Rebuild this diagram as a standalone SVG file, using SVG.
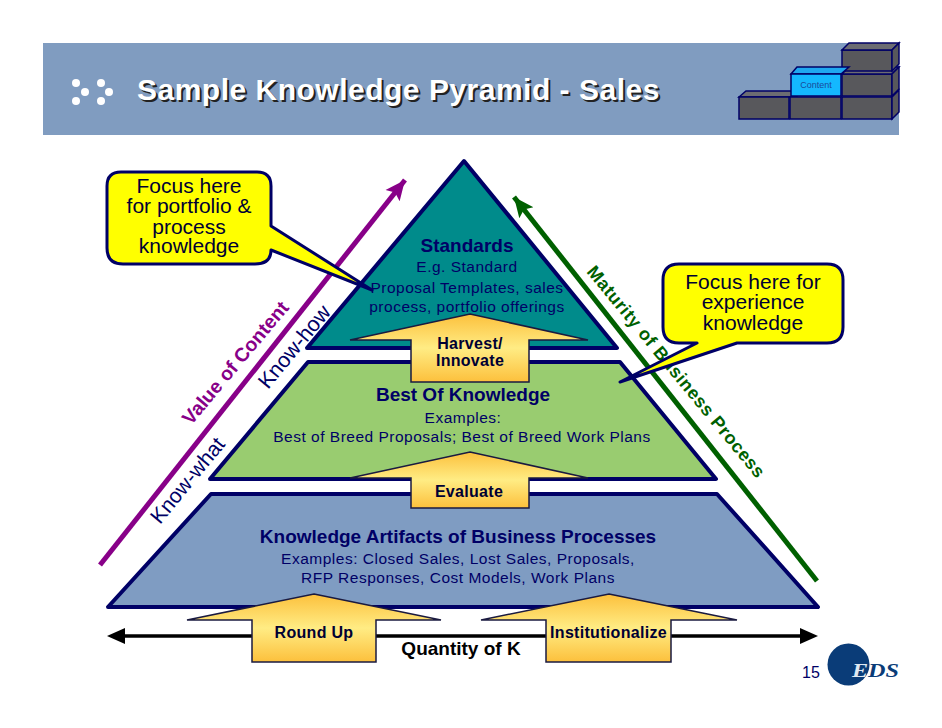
<svg xmlns="http://www.w3.org/2000/svg" width="942" height="728" viewBox="0 0 942 728">
<defs>
<linearGradient id="gold" x1="0" y1="0" x2="0" y2="1"><stop offset="0" stop-color="#fcc03c"/><stop offset="0.5" stop-color="#ffec84"/><stop offset="1" stop-color="#fcc03c"/></linearGradient>
<marker id="ap" markerUnits="userSpaceOnUse" markerWidth="24" markerHeight="22" refX="20" refY="11" orient="auto"><path d="M0 2L20 11L0 20L4 11Z" fill="#880088"/></marker>
<marker id="ag" markerUnits="userSpaceOnUse" markerWidth="24" markerHeight="22" refX="20" refY="11" orient="auto"><path d="M0 2L20 11L0 20L4 11Z" fill="#006000"/></marker>
</defs>
<style>
text{font-family:"Liberation Sans",Arial,sans-serif}
.tier{stroke:#000066;stroke-width:4;stroke-linejoin:round}
.up{fill:url(#gold);stroke:#1a1a40;stroke-width:1.5}
.navy{fill:#000066}
.b{font-weight:bold}
.m{text-anchor:middle}
.h{font-size:19px;font-weight:bold;text-anchor:middle;fill:#000066}
.t{font-size:15.500px;letter-spacing:.5px;text-anchor:middle;fill:#000066}
.u{font-size:16px;letter-spacing:.3px;font-weight:bold;text-anchor:middle;fill:#000033}
.c{font-size:21px;text-anchor:middle;fill:#000033}
.call{fill:#ffff00;stroke:#000066;stroke-width:3;stroke-linejoin:round}
.block{fill:#58585c;stroke:#000066;stroke-width:1.5}
.top{fill:#6c6c72;stroke:#000066;stroke-width:1.5}
</style>
<rect width="942" height="728" fill="#fff"/>
<g id="header">
<rect x="43" y="43" width="856" height="92" fill="#809cc0"/>
<g fill="#fff"><circle cx="76" cy="83" r="4"/><circle cx="85" cy="92" r="4"/><circle cx="76" cy="101" r="4"/><circle cx="101" cy="83" r="4"/><circle cx="109" cy="92" r="4"/><circle cx="101" cy="101" r="4"/></g>
<text x="139" y="102" font-size="30" font-weight="bold" letter-spacing=".5" fill="#222">Sample Knowledge Pyramid - Sales</text>
<text x="137" y="100" font-size="30" font-weight="bold" letter-spacing=".5" fill="#fff">Sample Knowledge Pyramid - Sales</text>
</g>
<g id="blocks">
<path class="top" d="M739 97L746 91H797V97Z"/><rect class="block" x="739" y="97" width="50" height="22"/>
<rect class="block" x="790" y="97" width="51" height="22"/>
<rect class="block" x="842" y="97" width="50" height="22"/><path class="block" d="M892 97L899 90V112L892 119Z"/>
<rect class="block" x="842" y="74" width="50" height="22"/><path class="top" d="M842 74L849 67H899L892 74Z"/><path class="block" d="M892 74L899 67V89L892 96Z"/>
<rect class="block" x="842" y="50" width="50" height="21"/><path class="top" d="M842 50L849 43H899L892 50Z"/><path class="block" d="M892 50L899 43V64L892 71Z"/>
<path d="M791 74L797 67H849L841 74Z" fill="#1fa8f0" stroke="#000066" stroke-width="1.5"/>
<rect x="791" y="74" width="50" height="22" fill="#14b8ff" stroke="#000066" stroke-width="1.5"/>
<text x="816" y="88" font-size="9" class="m" fill="#1a4a9a">Content</text>
</g>
<g id="tier-top">
<path class="tier" fill="#008b8b" d="M464 161L617 348H307Z"/>
<text x="467" y="252" class="h">Standards</text>
<text x="467" y="272" class="t">E.g. Standard</text>
<text x="467" y="293" class="t">Proposal Templates, sales</text>
<text x="467" y="312" class="t">process, portfolio offerings</text>
</g>
<g id="tier-middle">
<path class="tier" fill="#99cc70" d="M308 362H620L716 479H210Z"/>
<text x="463" y="401" class="h">Best Of Knowledge</text>
<text x="463" y="423" class="t">Examples:</text>
<text x="462" y="442" class="t">Best of Breed Proposals; Best of Breed Work Plans</text>
</g>
<g id="tier-bottom">
<path class="tier" fill="#7f9cc2" d="M211 494H717L818 607H108Z"/>
<text x="458" y="543" class="h">Knowledge Artifacts of Business Processes</text>
<text x="458" y="564" class="t">Examples:  Closed Sales, Lost Sales, Proposals,</text>
<text x="458" y="583" class="t">RFP Responses, Cost Models, Work Plans</text>
</g>
<g id="connectors">
<path d="M100 565L405 180" stroke="#880088" stroke-width="5" fill="none" marker-end="url(#ap)"/>
<path d="M817 581L514 197" stroke="#006000" stroke-width="5" fill="none" marker-end="url(#ag)"/>
<path d="M122 636H803" stroke="#000" stroke-width="3.500"/>
<path d="M107 636L125 628V644Z M818 636L800 628V644Z" fill="#000"/>
</g>
<g id="arrow-harvest"><path class="up" d="M470 314L588 340H529V382H411V340H350Z"/>
<text x="470" y="349" class="u">Harvest/</text><text x="470" y="366" class="u">Innovate</text></g>
<g id="arrow-evaluate"><path class="up" d="M470 452L588 478H529V508H411V478H350Z"/>
<text x="469" y="497" class="u">Evaluate</text></g>
<g id="arrow-roundup"><path class="up" d="M314 594L441 620H376V662H252V620H187Z"/>
<text x="314" y="638" class="u">Round Up</text></g>
<g id="arrow-inst"><path class="up" d="M609 594L737 620H671V662H546V620H481Z"/>
<text x="608.500" y="638" class="u">Institutionalize</text></g>
<g id="label-quantity"><text x="461" y="655" font-size="19" class="b m" fill="#000">Quantity of K</text></g>
<g id="axis-labels">
<text transform="translate(191 426) rotate(-50)" font-size="19.500" class="b" fill="#880088">Value of Content</text>
<text transform="translate(160 525) rotate(-50.500)" font-size="21" fill="#000066">Know-what</text>
<text transform="translate(268 390) rotate(-50.500)" font-size="21.500" fill="#000066">Know-how</text>
<text transform="translate(586 272) rotate(50.500)" font-size="18" letter-spacing=".6" class="b" fill="#006000">Maturity of Business Process</text>
</g>
<g id="callout-left">
<path class="call" d="M121 172H257Q271 172 271 186V226L372 290L271 250Q271 264 255 264H123Q107 264 107 248V186Q107 172 121 172Z"/>
<text x="189" y="193" class="c">Focus here</text><text x="189" y="213" class="c">for portfolio &amp;</text><text x="189" y="234" class="c">process</text><text x="189" y="253" class="c">knowledge</text>
</g>
<g id="callout-right">
<path class="call" d="M679 264H827Q843 264 843 280V327Q843 343 827 343H737L620 382L697 343H679Q663 343 663 327V280Q663 264 679 264Z"/>
<text x="753" y="289" class="c">Focus here for</text><text x="753" y="309" class="c">experience</text><text x="753" y="330" class="c">knowledge</text>
</g>
<g id="footer">
<text x="802" y="678" font-size="16" fill="#000066">15</text>
<circle cx="848.500" cy="664.500" r="21" fill="#0a3c78"/>
<text x="852" y="677" font-size="18" font-weight="bold" font-style="italic" textLength="47" lengthAdjust="spacingAndGlyphs" style="font-family:'Liberation Serif',serif"><tspan fill="#dfe8f2">E</tspan><tspan fill="#0a3c78">DS</tspan></text>
</g>
</svg>
